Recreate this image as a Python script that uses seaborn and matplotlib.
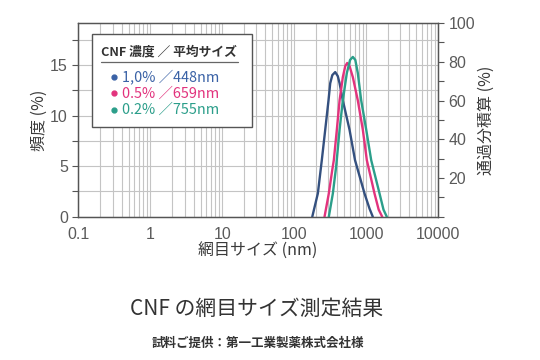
import numpy as np
import pandas as pd
import matplotlib
matplotlib.use("Agg")
import matplotlib.pyplot as plt
import matplotlib.ticker as mticker
import seaborn as sns

# ======= データ =======
size_10 = [179, 214, 243, 271, 301, 318, 340, 373, 405, 429, 476, 590, 703, 953, 1119, 1242]
freq_10 = [0, 2.3, 5.6, 8.6, 11.5, 13.2, 14.0, 14.3, 13.9, 13.2, 11.5, 8.6, 5.6, 2.3, 0.8, 0]

size_05 = [265, 304, 339, 357, 393, 429, 476, 515, 548, 590, 656, 769, 903, 1026, 1312, 1500, 1679]
freq_05 = [0, 2.3, 4.6, 5.6, 8.6, 11.5, 13.8, 14.9, 15.2, 14.9, 13.8, 11.5, 8.6, 5.6, 2.3, 0.7, 0]

size_02 = [304, 346, 385, 429, 476, 541, 600, 656, 710, 769, 857, 1007, 1180, 1541, 1750, 1945]
freq_02 = [0, 2.3, 5.0, 8.6, 11.5, 14.2, 15.5, 15.8, 15.5, 14.2, 11.5, 8.6, 5.6, 2.3, 0.7, 0]

labels = ["1,0% ／448nm", "0.5% ／659nm", "0.2% ／755nm"]
colors = ["#34507f", "#e2337d", "#2b9e8a"]
text_colors = ["#3a62a6", "#e2337d", "#2b9e8a"]

df = pd.concat([
    pd.DataFrame({"size": size_10, "freq": freq_10, "conc": labels[0]}),
    pd.DataFrame({"size": size_05, "freq": freq_05, "conc": labels[1]}),
    pd.DataFrame({"size": size_02, "freq": freq_02, "conc": labels[2]}),
])

sns.set_style("white")
plt.rcParams['font.family'] = ['Noto Sans CJK JP', 'DejaVu Sans']
num_font = ['Liberation Sans Narrow', 'Liberation Sans', 'DejaVu Sans']

fig = plt.figure(figsize=(5.4, 3.6), dpi=100)
ax = fig.add_axes([0.145, 0.398, 0.666, 0.538])

sns.lineplot(data=df, x="size", y="freq", hue="conc", palette=dict(zip(labels, colors)),
             lw=1.7, ax=ax, legend=False, zorder=3)

ax.set_xscale('log')
ax.set_xlim(0.1, 10000)
ax.set_ylim(0, 19.15)
ax.xaxis.set_major_locator(mticker.LogLocator(base=10, numticks=10))
ax.xaxis.set_minor_locator(mticker.LogLocator(base=10, subs=np.arange(2, 10), numticks=20))
ax.xaxis.set_major_formatter(mticker.FuncFormatter(lambda v, p: f"{v:g}"))
ax.xaxis.set_minor_formatter(mticker.NullFormatter())
ax.set_yticks([0, 5, 10, 15])
ax.yaxis.set_minor_locator(mticker.MultipleLocator(2.5))
ax.grid(which='both', axis='x', color='#c4c4c4', lw=0.8)
ax.grid(which='both', axis='y', color='#c4c4c4', lw=0.8)
ax.set_axisbelow(True)

for s in ax.spines.values():
    s.set_color('#555555')
    s.set_linewidth(0.9)
ax.tick_params(which='both', direction='out', color='#555555', labelcolor='#5a5a5a',
               labelsize=11.5, width=0.8)
ax.tick_params(which='major', length=4)
ax.tick_params(which='minor', length=2.5)
ax.tick_params(axis='y', which='minor', length=4)
for lab in ax.get_xticklabels() + ax.get_yticklabels():
    lab.set_family(num_font)

ax.set_xlabel('網目サイズ (nm)', fontsize=11.5, color='#3a3a3a', labelpad=0)
ax.set_ylabel('頻度 (%)', fontsize=11.5, color='#3a3a3a', labelpad=2)

# 右軸（通過分積算）
ax2 = ax.twinx()
ax2.set_ylim(0, 100)
ax2.set_yticks([20, 40, 60, 80, 100])
ax2.yaxis.set_minor_locator(mticker.MultipleLocator(10))
ax2.tick_params(which='both', direction='out', color='#555555', labelcolor='#5a5a5a',
                labelsize=11.5, width=0.8, length=4)
for lab in ax2.get_yticklabels():
    lab.set_family(num_font)
for s in ax2.spines.values():
    s.set_color('#555555')
    s.set_linewidth(0.9)
ax2.set_ylabel('通過分積算 (%)', fontsize=11.5, color='#3a3a3a', labelpad=2)

# 凡例ボックス
box = plt.Rectangle((0.0376, 0.4615), 0.445, 0.4815, transform=ax.transAxes,
                    facecolor='white', edgecolor='#555555', lw=1.0, zorder=5)
ax.add_patch(box)
ax.text(0.0626, 0.852, 'CNF 濃度 ／ 平均サイズ', transform=ax.transAxes, fontsize=9.2,
        color='#333333', fontweight='bold', va='center', ha='left', zorder=6)
ax.plot([0.0626, 0.4437], [0.797, 0.797], transform=ax.transAxes, color='#666666',
        lw=0.9, zorder=6)
for i, y in enumerate([0.723, 0.637, 0.551]):
    ax.plot([0.0987], [y], 'o', ms=3.5, color=text_colors[i], transform=ax.transAxes, zorder=6)
    ax.text(0.1202, y, labels[i], transform=ax.transAxes, fontsize=10.4,
            color=text_colors[i], va='center', ha='left', zorder=6)

fig.text(0.475, 0.142, 'CNF の網目サイズ測定結果', fontsize=15, color='#333333',
         ha='center', va='center')
fig.text(0.478, 0.045, '試料ご提供：第一工業製薬株式会社様', fontsize=9, color='#333333',
         fontweight='bold', ha='center', va='center')

fig.savefig('out.png', dpi=100)
